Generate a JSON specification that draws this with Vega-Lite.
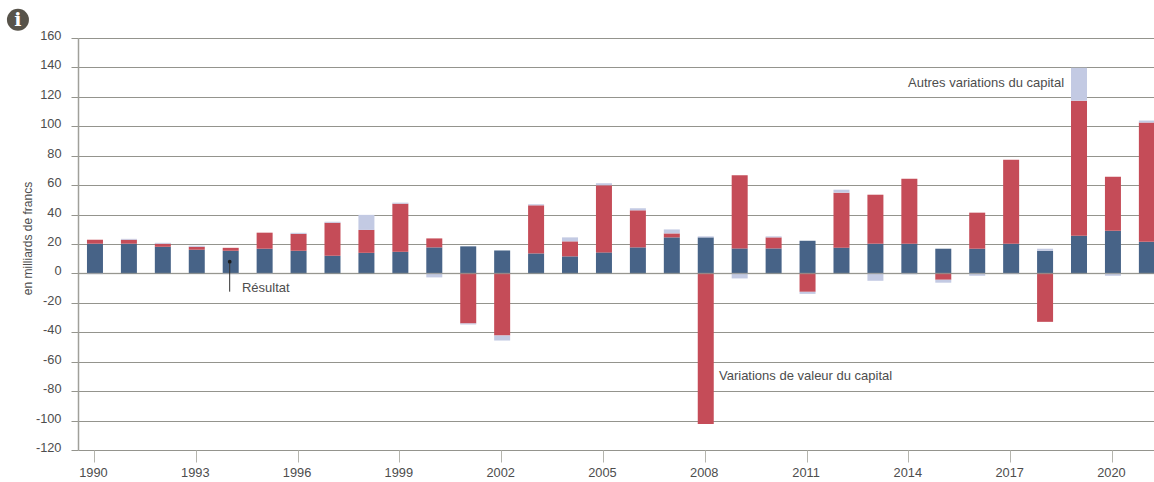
{"$schema":"https://vega.github.io/schema/vega-lite/v6.json","width":1076,"height":412,"autosize":{"type":"none"},"padding":{"left":78,"top":38,"right":0,"bottom":32},"background":"white","config":{"view":{"stroke":null},"font":"Liberation Sans"},
"datasets":{"bars":[
{"annee":1990,"serie":"Résultat","rang":1,"valeur":20.2},{"annee":1990,"serie":"Variations de valeur du capital","rang":2,"valeur":2.7},{"annee":1990,"serie":"Autres variations du capital","rang":3,"valeur":-0.5},
{"annee":1991,"serie":"Résultat","rang":1,"valeur":20.2},{"annee":1991,"serie":"Variations de valeur du capital","rang":2,"valeur":2.7},{"annee":1991,"serie":"Autres variations du capital","rang":3,"valeur":0.6},
{"annee":1992,"serie":"Résultat","rang":1,"valeur":18.1},{"annee":1992,"serie":"Variations de valeur du capital","rang":2,"valeur":2.1},{"annee":1992,"serie":"Autres variations du capital","rang":3,"valeur":0.6},
{"annee":1993,"serie":"Résultat","rang":1,"valeur":16.1},{"annee":1993,"serie":"Variations de valeur du capital","rang":2,"valeur":2.0},{"annee":1993,"serie":"Autres variations du capital","rang":3,"valeur":0.7},
{"annee":1994,"serie":"Résultat","rang":1,"valeur":15.4},{"annee":1994,"serie":"Variations de valeur du capital","rang":2,"valeur":2.0},{"annee":1994,"serie":"Autres variations du capital","rang":3,"valeur":-0.5},
{"annee":1995,"serie":"Résultat","rang":1,"valeur":16.8},{"annee":1995,"serie":"Variations de valeur du capital","rang":2,"valeur":10.9},{"annee":1995,"serie":"Autres variations du capital","rang":3,"valeur":-0.4},
{"annee":1996,"serie":"Résultat","rang":1,"valeur":15.4},{"annee":1996,"serie":"Variations de valeur du capital","rang":2,"valeur":11.5},{"annee":1996,"serie":"Autres variations du capital","rang":3,"valeur":0.7},
{"annee":1997,"serie":"Résultat","rang":1,"valeur":12.0},{"annee":1997,"serie":"Variations de valeur du capital","rang":2,"valeur":22.4},{"annee":1997,"serie":"Autres variations du capital","rang":3,"valeur":0.7},
{"annee":1998,"serie":"Résultat","rang":1,"valeur":14.0},{"annee":1998,"serie":"Variations de valeur du capital","rang":2,"valeur":15.6},{"annee":1998,"serie":"Autres variations du capital","rang":3,"valeur":10.2},
{"annee":1999,"serie":"Résultat","rang":1,"valeur":14.7},{"annee":1999,"serie":"Variations de valeur du capital","rang":2,"valeur":32.7},{"annee":1999,"serie":"Autres variations du capital","rang":3,"valeur":0.7},
{"annee":2000,"serie":"Résultat","rang":1,"valeur":17.7},{"annee":2000,"serie":"Variations de valeur du capital","rang":2,"valeur":6.1},{"annee":2000,"serie":"Autres variations du capital","rang":3,"valeur":-2.7},
{"annee":2001,"serie":"Résultat","rang":1,"valeur":18.4},{"annee":2001,"serie":"Variations de valeur du capital","rang":2,"valeur":-34.0},{"annee":2001,"serie":"Autres variations du capital","rang":3,"valeur":-0.7},
{"annee":2002,"serie":"Résultat","rang":1,"valeur":15.6},{"annee":2002,"serie":"Variations de valeur du capital","rang":2,"valeur":-42.2},{"annee":2002,"serie":"Autres variations du capital","rang":3,"valeur":-3.4},
{"annee":2003,"serie":"Résultat","rang":1,"valeur":13.6},{"annee":2003,"serie":"Variations de valeur du capital","rang":2,"valeur":32.7},{"annee":2003,"serie":"Autres variations du capital","rang":3,"valeur":0.7},
{"annee":2004,"serie":"Résultat","rang":1,"valeur":11.6},{"annee":2004,"serie":"Variations de valeur du capital","rang":2,"valeur":10.2},{"annee":2004,"serie":"Autres variations du capital","rang":3,"valeur":2.7},
{"annee":2005,"serie":"Résultat","rang":1,"valeur":14.3},{"annee":2005,"serie":"Variations de valeur du capital","rang":2,"valeur":45.6},{"annee":2005,"serie":"Autres variations du capital","rang":3,"valeur":1.4},
{"annee":2006,"serie":"Résultat","rang":1,"valeur":17.7},{"annee":2006,"serie":"Variations de valeur du capital","rang":2,"valeur":25.2},{"annee":2006,"serie":"Autres variations du capital","rang":3,"valeur":1.4},
{"annee":2007,"serie":"Résultat","rang":1,"valeur":24.5},{"annee":2007,"serie":"Variations de valeur du capital","rang":2,"valeur":2.7},{"annee":2007,"serie":"Autres variations du capital","rang":3,"valeur":2.7},
{"annee":2008,"serie":"Résultat","rang":1,"valeur":24.5},{"annee":2008,"serie":"Variations de valeur du capital","rang":2,"valeur":-102.4},{"annee":2008,"serie":"Autres variations du capital","rang":3,"valeur":0.7},
{"annee":2009,"serie":"Résultat","rang":1,"valeur":17.0},{"annee":2009,"serie":"Variations de valeur du capital","rang":2,"valeur":49.7},{"annee":2009,"serie":"Autres variations du capital","rang":3,"valeur":-3.4},
{"annee":2010,"serie":"Résultat","rang":1,"valeur":17.0},{"annee":2010,"serie":"Variations de valeur du capital","rang":2,"valeur":7.5},{"annee":2010,"serie":"Autres variations du capital","rang":3,"valeur":0.7},
{"annee":2011,"serie":"Résultat","rang":1,"valeur":22.2},{"annee":2011,"serie":"Variations de valeur du capital","rang":2,"valeur":-12.5},{"annee":2011,"serie":"Autres variations du capital","rang":3,"valeur":-1.4},
{"annee":2012,"serie":"Résultat","rang":1,"valeur":17.5},{"annee":2012,"serie":"Variations de valeur du capital","rang":2,"valeur":37.4},{"annee":2012,"serie":"Autres variations du capital","rang":3,"valeur":2.0},
{"annee":2013,"serie":"Résultat","rang":1,"valeur":20.2},{"annee":2013,"serie":"Variations de valeur du capital","rang":2,"valeur":33.3},{"annee":2013,"serie":"Autres variations du capital","rang":3,"valeur":-5.0},
{"annee":2014,"serie":"Résultat","rang":1,"valeur":20.2},{"annee":2014,"serie":"Variations de valeur du capital","rang":2,"valeur":44.2},{"annee":2014,"serie":"Autres variations du capital","rang":3,"valeur":-0.6},
{"annee":2015,"serie":"Résultat","rang":1,"valeur":16.8},{"annee":2015,"serie":"Variations de valeur du capital","rang":2,"valeur":-4.3},{"annee":2015,"serie":"Autres variations du capital","rang":3,"valeur":-2.0},
{"annee":2016,"serie":"Résultat","rang":1,"valeur":16.8},{"annee":2016,"serie":"Variations de valeur du capital","rang":2,"valeur":24.5},{"annee":2016,"serie":"Autres variations du capital","rang":3,"valeur":-1.6},
{"annee":2017,"serie":"Résultat","rang":1,"valeur":20.2},{"annee":2017,"serie":"Variations de valeur du capital","rang":2,"valeur":57.1},{"annee":2017,"serie":"Autres variations du capital","rang":3,"valeur":-0.5},
{"annee":2018,"serie":"Résultat","rang":1,"valeur":15.4},{"annee":2018,"serie":"Variations de valeur du capital","rang":2,"valeur":-32.9},{"annee":2018,"serie":"Autres variations du capital","rang":3,"valeur":1.4},
{"annee":2019,"serie":"Résultat","rang":1,"valeur":25.6},{"annee":2019,"serie":"Variations de valeur du capital","rang":2,"valeur":91.8},{"annee":2019,"serie":"Autres variations du capital","rang":3,"valeur":22.4},
{"annee":2020,"serie":"Résultat","rang":1,"valeur":29.0},{"annee":2020,"serie":"Variations de valeur du capital","rang":2,"valeur":36.7},{"annee":2020,"serie":"Autres variations du capital","rang":3,"valeur":-1.6},
{"annee":2021,"serie":"Résultat","rang":1,"valeur":21.5},{"annee":2021,"serie":"Variations de valeur du capital","rang":2,"valeur":81.0},{"annee":2021,"serie":"Autres variations du capital","rang":3,"valeur":1.4}
]},
"layer":[
{"data":{"name":"bars"},"mark":{"type":"bar","width":16},
"encoding":{
"x":{"field":"annee","type":"quantitative","scale":{"domain":[1989.5,2021.21],"nice":false,"zero":false,"padding":0},
"axis":{"values":[1990,1993,1996,1999,2002,2005,2008,2011,2014,2017,2020],"tickCount":20,"format":"d","title":null,"grid":false,"domain":false,"tickSize":12,"tickColor":"#b5b5ae","tickWidth":1,"tickOffset":-1,"labelOffset":-1,"labelFontSize":12.8,"labelColor":"#4d4d4d","labelPadding":4,"labelFlush":false,"labelOverlap":false,"labelBound":false}},
"y":{"field":"valeur","type":"quantitative","stack":"zero","scale":{"domain":[-120,160],"nice":false,"zero":false,"padding":0},
"axis":{"values":[-120,-100,-80,-60,-40,-20,0,20,40,60,80,100,120,140,160],"tickCount":20,"labelExpr":"replace(datum.label,'−','-')","title":"en milliards de francs","titleFontSize":12,"titleFontWeight":"normal","titleColor":"#4d4d4d","titleX":-44,"titleY":200,"grid":true,"gridColor":"#94948d","gridWidth":1,"domain":true,"domainColor":"#a0a09a","domainWidth":1.5,"tickSize":7,"tickColor":"#94948d","tickWidth":1,"labelFontSize":12.8,"labelColor":"#4d4d4d","labelPadding":10,"labelOffset":-2.5,"labelOverlap":false,"labelBound":false}},
"color":{"field":"serie","type":"nominal","legend":null,"scale":{"domain":["Résultat","Variations de valeur du capital","Autres variations du capital"],"range":["#476387","#C54C58","#C3CAE3"]}},
"order":{"field":"rang","type":"quantitative"}}},
{"data":{"values":[{"niveau":0}]},"mark":{"type":"rule","color":"#9a9a93","strokeWidth":1.5,"opacity":0.6},"encoding":{"y":{"field":"niveau","type":"quantitative"}}},
{"data":{"values":[{"annee":1993.97,"haut":8,"bas":-12.4}]},"mark":{"type":"rule","color":"#333333","strokeWidth":1},"encoding":{"x":{"field":"annee","type":"quantitative"},"y":{"field":"haut","type":"quantitative"},"y2":{"field":"bas"}}},
{"data":{"values":[{"annee":1993.97,"haut":8}]},"mark":{"type":"point","filled":true,"color":"#1c1c1c","size":14,"opacity":1},"encoding":{"x":{"field":"annee","type":"quantitative"},"y":{"field":"haut","type":"quantitative"}}},
{"data":{"values":[{"annee":1994.33,"niveau":-10.2,"texte":"Résultat"},{"annee":2008.39,"niveau":-69.5,"texte":"Variations de valeur du capital"}]},"mark":{"type":"text","align":"left","baseline":"middle","fontSize":13,"color":"#4d4d4d"},"encoding":{"x":{"field":"annee","type":"quantitative"},"y":{"field":"niveau","type":"quantitative"},"text":{"field":"texte"}}},
{"data":{"values":[{"annee":2018.56,"niveau":129.5,"texte":"Autres variations du capital"}]},"mark":{"type":"text","align":"right","baseline":"middle","fontSize":13,"color":"#4d4d4d"},"encoding":{"x":{"field":"annee","type":"quantitative"},"y":{"field":"niveau","type":"quantitative"},"text":{"field":"texte"}}},
{"data":{"values":[{"annee":1987.73,"niveau":172.4}]},"mark":{"type":"point","filled":true,"clip":false,"color":"#57534A","size":484,"opacity":1},"encoding":{"x":{"field":"annee","type":"quantitative"},"y":{"field":"niveau","type":"quantitative"}}},
{"data":{"values":[{"annee":1987.73,"niveau":172.4,"texte":"i"}]},"mark":{"type":"text","clip":false,"align":"center","baseline":"middle","fontSize":19,"fontWeight":"bold","font":"DejaVu Serif","color":"white"},"encoding":{"x":{"field":"annee","type":"quantitative"},"y":{"field":"niveau","type":"quantitative"},"text":{"field":"texte"}}}
]}
